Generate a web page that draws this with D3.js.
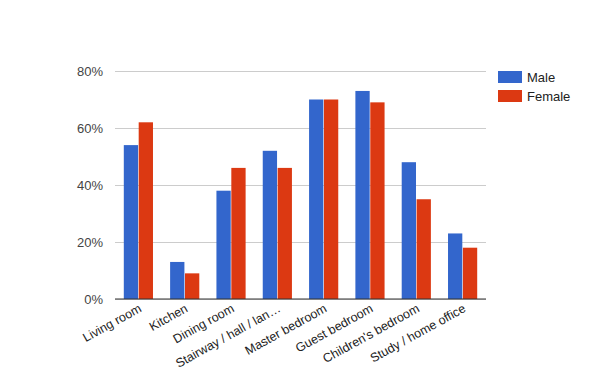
<!DOCTYPE html>
<html>
<head>
<meta charset="utf-8">
<script src="https://cdn.jsdelivr.net/npm/d3@7"></script>
<style>
  body { margin: 0; background: #fff; }
  text { font-family: "Liberation Sans", Arial, sans-serif; }
</style>
</head>
<body>
<div id="chart"></div>
<script>
const rooms = ['Living room', 'Kitchen', 'Dining room', 'Stairway / hall / lan\u2026', 'Master bedroom', 'Guest bedroom', "Children's bedroom", 'Study / home office'];
const seriesNames = ['Male', 'Female'];
const maleValues = [54, 13, 38, 52, 70, 73, 48, 23];
const femaleValues = [62, 9, 46, 46, 70, 69, 35, 18];
const yTicks = [0, 20, 40, 60, 80];
const colors = ['#3366cc', '#dc3912'];

const width = 600, height = 371;
const margin = { top: 71, left: 115, right: 114, bottom: 72 };

const svg = d3.select('#chart').append('svg')
    .attr('width', width)
    .attr('height', height);

const x = d3.scaleBand()
    .domain(rooms)
    .range([margin.left, width - margin.right])
    .paddingInner(0.37)
    .paddingOuter(0.19);

const xInner = d3.scaleBand()
    .domain(seriesNames)
    .range([0, x.bandwidth()])
    .paddingInner(0.04);

const y = d3.scaleLinear()
    .domain([0, 80])
    .range([height - margin.bottom, margin.top]);

// gridlines + y labels
const yAxis = svg.append('g')
    .attr('transform', `translate(${margin.left},0)`)
    .call(d3.axisLeft(y).tickValues(yTicks).tickFormat(d => d + '%')
        .tickSize(-(width - margin.left - margin.right)).tickPadding(12));
yAxis.select('.domain').remove();
yAxis.selectAll('line').attr('stroke', '#cccccc');
yAxis.selectAll('text')
    .attr('fill', '#444')
    .attr('font-size', 13);

// bars
const data = rooms.map((r, i) => ({ room: r, values: [maleValues[i], femaleValues[i]] }));
const groups = svg.append('g').selectAll('g')
    .data(data)
    .join('g')
    .attr('transform', d => `translate(${x(d.room)},0)`);

groups.selectAll('rect')
    .data(d => d.values.map((v, j) => ({ name: seriesNames[j], value: v, j })))
    .join('rect')
    .attr('x', d => xInner(d.name))
    .attr('y', d => y(d.value))
    .attr('width', xInner.bandwidth())
    .attr('height', d => y(0) - y(d.value))
    .attr('fill', d => colors[d.j]);

// baseline
svg.append('line')
    .attr('x1', margin.left)
    .attr('x2', width - margin.right)
    .attr('y1', y(0))
    .attr('y2', y(0))
    .attr('stroke', '#333');

// x labels
const xAxis = svg.append('g')
    .attr('transform', `translate(0,${y(0)})`)
    .call(d3.axisBottom(x).tickSize(0).tickPadding(0));
xAxis.select('.domain').remove();
xAxis.selectAll('text')
    .attr('fill', '#222')
    .attr('font-size', 12.5)
    .attr('dy', null)
    .attr('text-anchor', 'end')
    .attr('transform', 'translate(4,12) rotate(-29)');

// legend
const legend = svg.append('g')
    .attr('transform', 'translate(498,71)');
const items = legend.selectAll('g')
    .data(seriesNames)
    .join('g')
    .attr('transform', (d, i) => `translate(0,${i * 19})`);
items.append('rect')
    .attr('width', 24)
    .attr('height', 12)
    .attr('fill', (d, i) => colors[i]);
items.append('text')
    .attr('x', 29)
    .attr('y', 11)
    .attr('font-size', 13)
    .attr('fill', '#222')
    .text(d => d);
</script>
</body>
</html>
